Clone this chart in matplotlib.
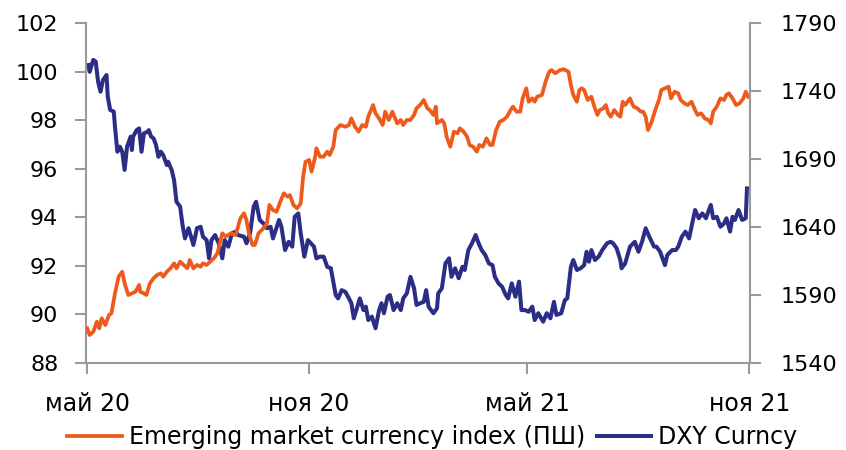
import numpy as np
import pandas as pd
import matplotlib
matplotlib.use("Agg")
import matplotlib.pyplot as plt

start = pd.Timestamp("2020-05-01")

# DXY Curncy (left scale), days after 2020-05-01
dxy_days = [1, 2, 5, 7, 9, 11, 13, 16, 17, 19, 22, 23, 25, 27, 29, 31, 33, 36, 37, 38,
            41, 43, 45, 47, 50, 51, 53, 55, 57, 59, 61, 63, 66, 67, 70, 72, 74, 77, 79, 81,
            84, 86, 88, 91, 94, 96, 99, 101, 103, 106, 109, 112, 114, 117, 120, 123, 125, 130, 132, 135,
            138, 140, 143, 146, 149, 152, 154, 159, 161, 164, 167, 170, 172, 175, 177, 180, 183, 188, 190, 193,
            196, 199, 202, 206, 208, 211, 214, 217, 219, 221, 224, 226, 229, 231, 233, 236, 239, 242, 244, 246,
            249, 251, 254, 257, 260, 262, 265, 268, 271, 273, 276, 279, 281, 283, 287, 290, 291, 294, 297, 300,
            302, 305, 308, 311, 313, 316, 319, 322, 324, 327, 330, 333, 336, 338, 341, 344, 347, 349, 352, 355,
            358, 360, 363, 366, 369, 371, 374, 378, 381, 384, 387, 389, 393, 396, 398, 401, 403, 406, 409, 412,
            414, 416, 418, 421, 424, 427, 431, 434, 436, 439, 442, 443, 446, 450, 454, 457, 460, 463, 466, 470,
            472, 475, 479, 481, 485, 488, 490, 493, 496, 499, 501, 504, 507, 510, 513, 517, 519, 522, 525, 528,
            530, 533, 535, 537, 540, 543, 546, 547]
dxy = [100.27, 99.99, 100.48, 100.41, 99.58, 99.17, 99.65, 99.86, 98.97, 98.42, 98.35, 97.73, 96.70, 96.91, 96.70, 95.95, 96.91, 97.32, 96.77, 97.32,
       97.59, 97.66, 96.70, 97.46, 97.52, 97.59, 97.32, 97.25, 96.98, 96.49, 96.70, 96.56, 96.15, 96.29, 95.95, 95.53, 94.64, 94.44, 93.68, 93.13,
       93.55, 93.20, 92.86, 93.55, 93.61, 93.20, 93.06, 92.31, 93.06, 93.27, 92.93, 92.31, 93.06, 92.79, 93.34, 93.41, 93.27, 93.20, 92.93, 93.34,
       94.44, 94.64, 93.89, 93.75, 93.55, 93.61, 93.13, 93.89, 93.61, 92.65, 92.99, 92.79, 94.02, 94.16, 93.34, 92.38, 93.06, 92.79, 92.31, 92.38,
       92.38, 91.96, 91.90, 90.80, 90.66, 91.00, 90.93, 90.66, 90.46, 89.84, 90.32, 90.66, 90.18, 90.32, 89.77, 89.91, 89.43, 90.18, 90.46, 90.05,
       90.73, 90.80, 90.18, 90.46, 90.18, 90.66, 90.87, 91.55, 91.07, 90.39, 90.46, 90.52, 91.00, 90.32, 90.05, 90.25, 90.87, 91.07, 92.10, 92.31,
       91.55, 91.90, 91.49, 91.96, 91.83, 92.65, 92.93, 93.27, 92.99, 92.65, 92.45, 92.10, 92.03, 91.55, 91.28, 91.14, 90.80, 90.66, 91.28, 90.73,
       91.35, 90.18, 90.18, 90.11, 90.32, 89.77, 90.05, 89.70, 90.05, 89.84, 90.52, 89.98, 90.05, 90.59, 90.66, 91.96, 92.24, 91.83, 91.90, 92.03,
       92.58, 92.17, 92.65, 92.24, 92.38, 92.65, 92.93, 92.99, 92.93, 92.72, 92.24, 91.90, 92.10, 92.79, 92.99, 92.58, 92.99, 93.55, 93.20, 92.79,
       92.79, 92.58, 92.03, 92.45, 92.65, 92.65, 92.79, 93.20, 93.41, 93.13, 93.61, 94.30, 93.96, 94.16, 93.96, 94.51, 93.96, 94.02, 93.61, 93.75,
       93.96, 93.41, 94.02, 93.89, 94.30, 93.89, 93.96, 95.19]

# Emerging market currency index (right scale), days after 2020-05-01
em_days = [0, 2, 5, 8, 10, 12, 15, 18, 20, 23, 26, 29, 31, 34, 37, 40, 43, 44, 47, 49,
           52, 55, 58, 61, 63, 66, 69, 72, 74, 77, 80, 83, 85, 88, 91, 94, 96, 99, 102, 105,
           108, 110, 112, 115, 119, 123, 127, 130, 132, 134, 137, 139, 142, 146, 149, 151, 154, 157, 160, 163,
           166, 168, 171, 174, 177, 179, 181, 184, 186, 189, 190, 193, 196, 199, 201, 204, 206, 210, 214, 217,
           219, 222, 225, 228, 231, 233, 237, 239, 242, 245, 247, 250, 253, 257, 260, 262, 265, 268, 271, 273,
           276, 279, 282, 284, 287, 289, 290, 294, 296, 298, 301, 304, 307, 309, 312, 315, 317, 320, 323, 325,
           328, 331, 334, 336, 339, 342, 345, 348, 351, 353, 356, 359, 361, 364, 366, 369, 371, 373, 377, 380,
           383, 385, 388, 392, 395, 399, 401, 403, 406, 408, 410, 412, 415, 418, 420, 423, 425, 428, 430, 432,
           434, 437, 440, 442, 444, 446, 449, 450, 453, 456, 459, 461, 463, 465, 468, 471, 474, 476, 479, 482,
           484, 487, 490, 492, 495, 498, 501, 504, 506, 509, 512, 515, 517, 519, 522, 525, 528, 530, 532, 535,
           538, 541, 544, 546, 548]
em = [1565.5, 1560.6, 1563.0, 1570.4, 1565.5, 1572.9, 1567.9, 1575.3, 1576.5, 1591.2, 1603.5, 1607.1, 1598.6, 1590.0, 1591.2, 1592.4, 1597.4, 1592.4, 1591.2, 1590.0,
      1598.6, 1602.3, 1604.7, 1606.0, 1603.5, 1607.1, 1609.6, 1613.3, 1609.6, 1614.5, 1612.1, 1609.6, 1615.7, 1609.6, 1612.1, 1610.8, 1613.3, 1612.1, 1614.5, 1617.0,
      1620.7, 1628.0, 1635.4, 1632.9, 1635.4, 1634.1, 1646.4, 1650.1, 1645.1, 1635.4, 1626.8, 1626.8, 1635.4, 1639.0, 1642.7, 1656.2, 1652.5, 1651.2, 1658.6, 1664.8,
      1662.3, 1663.5, 1656.2, 1653.7, 1657.4, 1677.0, 1688.0, 1689.3, 1680.7, 1691.7, 1697.9, 1691.7, 1691.7, 1695.4, 1692.9, 1699.0, 1711.3, 1715.0, 1713.7, 1715.0,
      1719.9, 1713.7, 1710.1, 1715.0, 1713.7, 1721.1, 1729.7, 1723.6, 1719.9, 1715.0, 1724.8, 1718.7, 1724.8, 1716.2, 1718.7, 1715.0, 1718.7, 1718.7, 1722.4, 1727.3,
      1729.7, 1733.4, 1727.3, 1726.0, 1722.4, 1728.5, 1716.2, 1718.7, 1716.2, 1706.4, 1699.0, 1710.1, 1708.9, 1712.6, 1710.1, 1706.4, 1700.3, 1699.0, 1695.4, 1700.3,
      1699.0, 1705.2, 1700.3, 1700.3, 1711.3, 1717.4, 1718.7, 1721.1, 1726.0, 1728.5, 1724.8, 1724.8, 1734.6, 1742.0, 1732.1, 1734.6, 1732.1, 1735.8, 1737.1, 1746.8,
      1754.2, 1755.4, 1753.0, 1755.4, 1756.0, 1754.2, 1744.4, 1737.1, 1732.1, 1740.7, 1742.0, 1740.7, 1733.4, 1735.8, 1729.7, 1722.4, 1726.0, 1727.3, 1729.7, 1723.6,
      1721.1, 1726.0, 1722.4, 1721.1, 1732.1, 1729.7, 1733.4, 1734.6, 1728.5, 1727.3, 1724.8, 1724.8, 1721.1, 1711.3, 1717.4, 1726.0, 1733.4, 1740.7, 1742.0, 1743.2,
      1734.6, 1739.5, 1738.3, 1733.4, 1731.0, 1729.7, 1732.1, 1726.0, 1722.4, 1723.6, 1719.9, 1718.7, 1716.2, 1724.8, 1728.5, 1734.6, 1733.4, 1737.1, 1738.3, 1734.6,
      1729.7, 1731.0, 1734.6, 1739.5, 1735.8]

tick_dates = ["2020-05-01", "2020-11-01", "2021-05-01", "2021-11-01"]
tick_labels = ["май 20", "ноя 20", "май 21", "ноя 21"]

orange = "#EE5A1B"
navy = "#2B2D86"
grey = "#9A9A9A"

plt.rcParams["font.family"] = ["DejaVu Sans"]
plt.rcParams["font.size"] = 16

fig = plt.figure(figsize=(8.46, 4.5), dpi=100)
ax = fig.add_axes([0.1017, 0.1933, 0.7848, 0.7556])
ax2 = ax.twinx()

dxy_x = start + pd.to_timedelta(dxy_days, unit="D")
em_x = start + pd.to_timedelta(em_days, unit="D")

l_dxy, = ax.plot(dxy_x, dxy, color=navy, lw=2.9, solid_joinstyle="round")
l_em, = ax2.plot(em_x, em, color=orange, lw=2.7, solid_joinstyle="round")

ax.set_ylim(88, 102)
ax.set_yticks(np.arange(88, 103, 2))
ax2.set_ylim(1540, 1790)
ax2.set_yticks(np.arange(1540, 1791, 50))
ax.set_xlim(start - pd.Timedelta(days=1), pd.Timestamp("2021-11-01") + pd.Timedelta(hours=12))
ax.set_xticks(pd.to_datetime(tick_dates))
ax.set_xticklabels(tick_labels)

for a in (ax, ax2):
    a.spines["top"].set_visible(False)
    for s in ("left", "right", "bottom"):
        a.spines[s].set_color(grey)
        a.spines[s].set_linewidth(1.5)
ax.spines["right"].set_visible(False)
ax2.spines["left"].set_visible(False)
ax2.spines["bottom"].set_visible(False)

ax.tick_params(axis="y", direction="out", length=8, width=1.5, color=grey, pad=12, labelsize=16)
ax.tick_params(axis="x", direction="out", length=8, width=1.5, color=grey, pad=13, labelsize=17)
ax2.tick_params(axis="y", direction="out", length=8, width=1.5, color=grey, pad=14, labelsize=16)

fig.legend([l_em, l_dxy], ["Emerging market currency index (ПШ)", "DXY Curncy"],
           loc="lower center", bbox_to_anchor=(0.511, -0.045), ncol=2, frameon=False,
           handlelength=2.3, handletextpad=0.3, columnspacing=0.5, fontsize=17)

fig.savefig("out.png", dpi=100)
